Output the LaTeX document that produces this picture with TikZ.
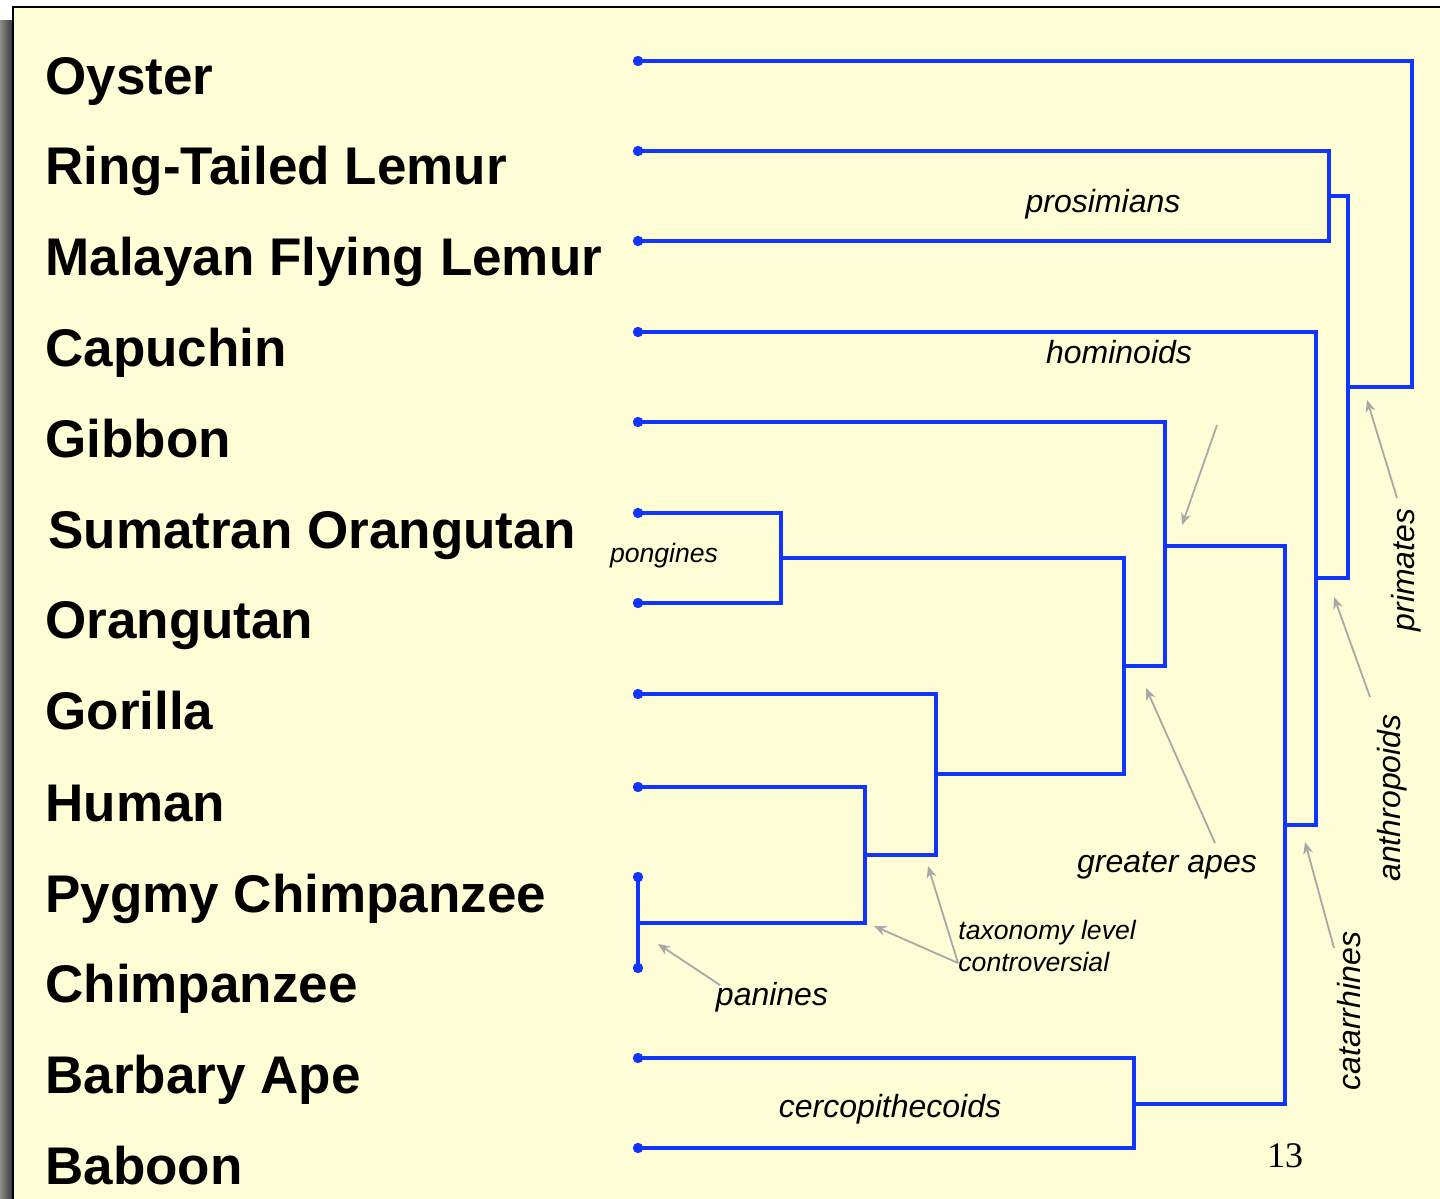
\documentclass[tikz,border=0pt]{standalone}
\usepackage{fontspec}
\setmainfont{Liberation Sans}
\newfontfamily\pagenumfont{Liberation Serif}
\usetikzlibrary{arrows.meta}
\definecolor{treeblue}{RGB}{18,52,255}
\definecolor{bgyellow}{RGB}{255,253,214}
\definecolor{arrowgray}{RGB}{168,168,168}
\begin{document}
\begin{tikzpicture}[x=0.5pt,y=-0.5pt,
  branch/.style={draw=treeblue,line width=2.1pt},
  leafdot/.style={fill=treeblue},
  taxon/.style={font=\bfseries\fontsize{26.5}{30}\selectfont,anchor=base west,inner sep=0pt},
  grouplabel/.style={font=\itshape\fontsize{16}{19}\selectfont,anchor=base,inner sep=0pt},
  smalllabel/.style={font=\itshape\fontsize{13.3}{16}\selectfont,inner sep=0pt},
  pointer/.style={draw=arrowgray,line width=0.9pt,-{Stealth[length=6pt,width=5pt]}}
]
\useasboundingbox (0,0) rectangle (1440,1199);
% page background, shadow and frame
\fill[white] (0,0) rectangle (1440,1199);
\shade[left color=black!45,right color=black!80] (0,20) rectangle (13,1199);
\fill[bgyellow] (13,7) rectangle (1440,1199);
\draw[black,line width=1.2pt] (13,1199) -- (13,7) -- (1440,7);

% leaves
\coordinate (L1) at (638,61);
\coordinate (L2) at (638,151);
\coordinate (L3) at (638,241);
\coordinate (L4) at (638,332);
\coordinate (L5) at (638,422);
\coordinate (L6) at (638,513);
\coordinate (L7) at (638,603);
\coordinate (L8) at (638,694);
\coordinate (L9) at (638,787);
\coordinate (L10) at (638,877);
\coordinate (L11) at (638,968);
\coordinate (L12) at (638,1058);
\coordinate (L13) at (638,1148);

% junctions
\coordinate (jPro) at (1329,196);
\coordinate (jPong) at (781,558);
\coordinate (jPan) at (638,923);
\coordinate (jHC) at (865,855);
\coordinate (jGHC) at (936,774);
\coordinate (jGA) at (1124,666);
\coordinate (jHom) at (1165,546);
\coordinate (jCerc) at (1134,1104);
\coordinate (jCat) at (1285,825);
\coordinate (jAnth) at (1316,578);
\coordinate (jPrim) at (1348,387);
\coordinate (root) at (1412,387);

% branches
\draw[branch] (L2) -| (jPro) |- (L3);
\draw[branch] (L6) -| (jPong) |- (L7);
\draw[branch] (L10) -- (L11);
\draw[branch] (L9) -| (jHC) |- (jPan);
\draw[branch] (L8) -| (jGHC) |- (jHC);
\draw[branch] (jPong) -| (jGA) |- (jGHC);
\draw[branch] (L5) -| (jHom) |- (jGA);
\draw[branch] (L12) -| (jCerc) |- (L13);
\draw[branch] (jHom) -| (jCat) |- (jCerc);
\draw[branch] (L4) -| (jAnth) |- (jCat);
\draw[branch] (jPro) -| (jPrim) |- (jAnth);
\draw[branch] (L1) -| (root) -- (jPrim);

% leaf dots
\foreach \n in {L1,L2,L3,L4,L5,L6,L7,L8,L9,L10,L11,L12,L13}
  \fill[leafdot] (\n) circle[radius=2.6pt];

% taxon names
\node[taxon] (tOyster) at (45,94) {Oyster};
\node[taxon] (tRing) at (45,184) {Ring-Tailed Lemur};
\node[taxon] (tMalayan) at (45,275) {Malayan Flying Lemur};
\node[taxon] (tCapuchin) at (45,366) {Capuchin};
\node[taxon] (tGibbon) at (45,457) {Gibbon};
\node[taxon] (tSumatran) at (48,548) {Sumatran Orangutan};
\node[taxon] (tOrangutan) at (45,638) {Orangutan};
\node[taxon] (tGorilla) at (45,729) {Gorilla};
\node[taxon] (tHuman) at (45,821) {Human};
\node[taxon] (tPygmy) at (45,912) {Pygmy Chimpanzee};
\node[taxon] (tChimp) at (45,1002) {Chimpanzee};
\node[taxon] (tBarbary) at (45,1093) {Barbary Ape};
\node[taxon] (tBaboon) at (45,1184) {Baboon};

% group labels
\node[grouplabel] (gPro) at (1103,212) {prosimians};
\node[grouplabel] (gHom) at (1119,363) {hominoids};
\node[smalllabel,anchor=base] (gPong) at (664,562) {pongines};
\node[grouplabel] (gPan) at (772,1005) {panines};
\node[grouplabel] (gGA) at (1167,872) {greater apes};
\node[smalllabel,anchor=base west] (gTax1) at (958,939) {taxonomy level};
\node[smalllabel,anchor=base west] (gTax2) at (958,971) {controversial};
\node[grouplabel] (gCerc) at (890,1117) {cercopithecoids};
\node[grouplabel,rotate=90] (gPrim) at (1414,570) {primates};
\node[grouplabel,rotate=90] (gAnth) at (1400,798) {anthropoids};
\node[grouplabel,rotate=90] (gCat) at (1360,1011) {catarrhines};
\node[font=\pagenumfont\fontsize{18}{20}\selectfont,anchor=base,inner sep=0pt] (pnum) at (1285,1167) {13};

% pointer arrows
\coordinate (aHomS) at (1217,425);
\coordinate (aHomE) at (1182,525);
\coordinate (aGAS) at (1215,843);
\coordinate (aGAE) at (1146,688);
\coordinate (aTaxS) at (958,963);
\coordinate (aTaxE1) at (928,866);
\coordinate (aTaxE2) at (874,926);
\coordinate (aPanS) at (720,985);
\coordinate (aPanE) at (658,944);
\coordinate (aPrimS) at (1397,498);
\coordinate (aPrimE) at (1367,400);
\coordinate (aAnthS) at (1370,697);
\coordinate (aAnthE) at (1334,597);
\coordinate (aCatS) at (1334,948);
\coordinate (aCatE) at (1305,842);
\draw[pointer] (aHomS) -- (aHomE);
\draw[pointer] (aGAS) -- (aGAE);
\draw[pointer] (aTaxS) -- (aTaxE1);
\draw[pointer] (aTaxS) -- (aTaxE2);
\draw[pointer] (aPanS) -- (aPanE);
\draw[pointer] (aPrimS) -- (aPrimE);
\draw[pointer] (aAnthS) -- (aAnthE);
\draw[pointer] (aCatS) -- (aCatE);
\end{tikzpicture}
\end{document}
